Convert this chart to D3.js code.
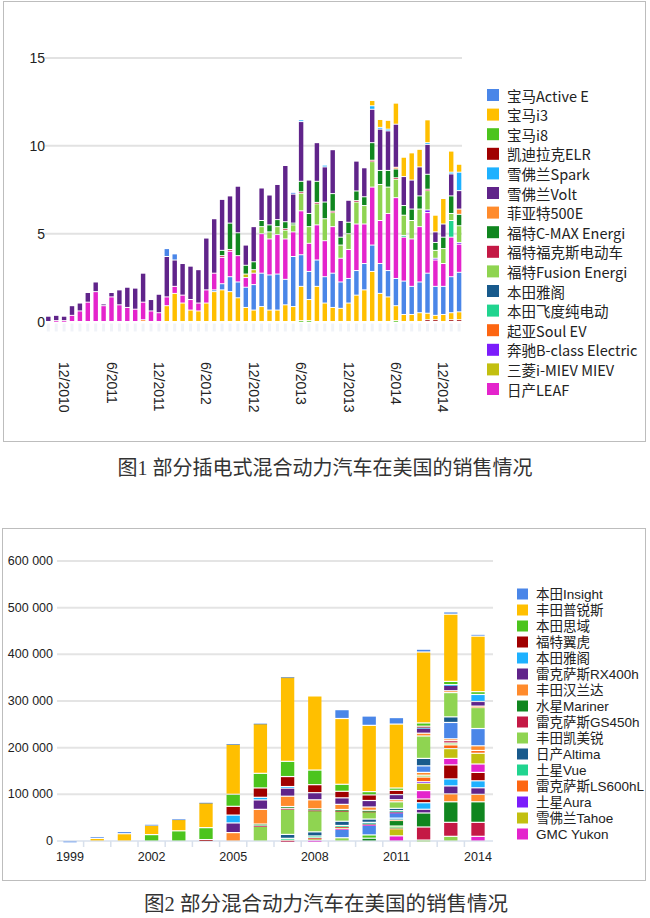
<!DOCTYPE html>
<html><head><meta charset="utf-8">
<script src="https://cdn.jsdelivr.net/npm/d3@7"></script>
<style>body{margin:0;background:#fff}svg{display:block}</style>
</head><body>
<svg id="c" width="650" height="918"></svg>
<script>
// ================= DATA: chart 1 (monthly plug-in sales, thousands) =================
const months1 = ["10/2010","11/2010","12/2010",
 "1/2011","2/2011","3/2011","4/2011","5/2011","6/2011","7/2011","8/2011","9/2011","10/2011","11/2011","12/2011",
 "1/2012","2/2012","3/2012","4/2012","5/2012","6/2012","7/2012","8/2012","9/2012","10/2012","11/2012","12/2012",
 "1/2013","2/2013","3/2013","4/2013","5/2013","6/2013","7/2013","8/2013","9/2013","10/2013","11/2013","12/2013",
 "1/2014","2/2014","3/2014","4/2014","5/2014","6/2014","7/2014","8/2014","9/2014","10/2014","11/2014","12/2014",
 "1/2015","2/2015"];
const tickMonths1 = ["12/2010","6/2011","12/2011","6/2012","12/2012","6/2013","12/2013","6/2014","12/2014"];
const yTicks1 = [0, 5, 10, 15];

const activeE  = [0,0,0,0,0,0,0,0,0,0, 0,0,0,0,0,0.45,0.35,0,0,0, 0,0,0,0,0,0,0,0,0,0, 0,0.1,0,0,0,0,0,0,0,0, 0,0,0,0,0,0,0,0,0,0, 0,0,0];
const bmwI3    = [0,0,0,0,0,0,0,0,0,0, 0,0,0,0,0,0,0,0,0,0, 0,0,0,0,0,0,0,0,0,0, 0,0,0,0,0,0,0,0,0,0, 0,0.3,0.45,0.5,1.2,1.1,1.55,1.0,1.3,0.95, 1.45,1.2,0.45];
const bmwI8    = [0,0,0,0,0,0,0,0,0,0, 0,0,0,0,0,0,0,0,0,0, 0,0,0,0,0,0,0,0,0,0, 0,0,0,0,0,0,0,0,0,0, 0,0,0,0,0,0,0,0,0,0, 0,0,0];
const elr      = [0,0,0,0,0,0,0,0,0,0, 0,0,0,0,0,0,0,0,0,0, 0,0,0,0,0,0,0,0,0,0, 0,0,0,0,0,0,0,0,0,0, 0,0,0,0,0,0,0,0,0,0, 0,0,0];
const spark    = [0,0,0,0,0,0,0,0,0,0, 0,0,0,0,0,0,0,0,0,0, 0,0,0,0,0,0,0,0,0,0, 0,0,0.1,0,0,0.1,0,0,0,0, 0,0.2,0.1,0.1,0,0,0,0,0.1,0, 0,0.1,1.05];
const volt     = [0.3,0.3,0.25,0.55,0.45,0.55,0.55,0.1,0.25,0.85, 1.15,1.2,1.65,0.65,1.05,2.3,1.5,1.8,1.9,1.9, 2.95,3.1,2.9,1.55,2.65,1.15,2.0,1.85,1.7,2.0, 3.2,1.65,3.4,1.9,2.2,2.0,2.5,0.95,1.25,1.7, 1.65,1.9,2.35,2.25,2.45,1.65,1.65,1.65,1.7,0.6, 0.75,1.25,1.05];
const fiat500e = [0,0,0,0,0,0,0,0,0,0, 0,0,0,0,0,0,0,0,0,0, 0,0,0,0,0,0,0,0,0,0, 0,0,0,0,0,0,0,0,0,0, 0,0,0,0,0.1,0,0,0,0,0, 0,0,0.3];
const cmax     = [0,0,0,0,0,0,0,0,0,0, 0,0,0,0,0,0,0,0,0,0, 0,0,0.3,1.5,1.3,0.5,0.45,0.35,0.4,0.4, 0.4,0.1,0.6,0.75,1.2,0.95,1.0,0.45,0.65,0.55, 0.5,1.0,0.8,0.95,0.5,0.55,0.65,0.75,0.85,0.45, 0.65,1.0,0.65];
const focusEV  = [0,0,0,0,0,0,0,0,0,0, 0,0,0,0,0,0,0,0,0,0, 0,0,0.1,0.1,0,0,0,0,0,0, 0.08,0,0.08,0,0.08,0,0.08,0,0,0.08, 0,0.08,0,0,0.08,0,0,0,0.08,0, 0,0,0];
const fusion   = [0,0,0,0,0,0,0,0,0,0, 0,0,0,0,0,0,0,0,0,0, 0,0,0,0,0,0,0,0.4,0.4,0.45, 0.5,0.4,1.0,0.95,1.2,1.25,0.8,0.75,0.9,1.25, 1.05,1.45,2.05,1.5,1.05,1.15,1.05,1.0,1.1,0.45, 0.85,0.4,0.95];
const accordP  = [0,0,0,0,0,0,0,0,0,0, 0,0,0,0,0,0,0,0,0,0, 0,0,0,0,0,0,0,0,0,0, 0,0,0,0,0,0,0,0,0,0, 0,0,0,0,0,0,0,0,0,0, 0,0,0];
const fitEV    = [0,0,0,0,0,0,0,0,0,0, 0,0,0,0,0,0,0,0,0,0, 0,0,0,0,0,0,0,0,0,0, 0,0,0,0,0,0,0,0,0,0, 0,0,0,0,0,0.1,0,0,0,0, 0,0.95,0];
const soulEV   = [0,0,0,0,0,0,0,0,0,0, 0,0,0,0,0,0,0,0,0,0, 0,0,0,0,0,0,0,0,0,0, 0,0,0,0,0,0,0,0,0,0, 0,0,0,0,0,0,0,0,0,0, 0,0,0];
const bClass   = [0,0,0,0,0,0,0,0,0,0, 0,0,0,0,0,0,0,0,0,0, 0,0,0,0,0,0,0,0,0,0, 0,0,0,0,0,0,0,0,0,0, 0,0,0,0,0,0,0,0,0.15,0.1, 0,0,0.1];
const iMiev    = [0,0,0,0,0,0,0,0,0,0, 0,0,0,0,0,0,0,0,0,0, 0,0,0,0,0,0.2,0.2,0,0,0, 0,0,0,0,0,0,0,0,0,0, 0,0,0,0,0,0,0,0,0,0, 0,0,0];
const leaf     = [0,0.05,0.05,0.35,0.6,1.1,1.7,0.9,1.4,0.95, 0.8,0.7,1.0,0.6,0.5,0.5,0.4,0.45,0.6,0.45, 0.75,0.95,1.5,1.45,1.5,0.55,0.65,2.25,2.05,2.25, 2.3,1.4,2.5,1.6,2.0,2.05,2.65,1.35,1.65,2.65, 2.25,3.3,2.45,3.25,4.6,2.5,2.7,3.15,3.45,1.5, 1.3,2.25,1.6];
// series beyond the visible legend page (colours continue the palette)
const extra16  = [0,0,0,0,0,0,0,0,0,0, 0,0,0,0,0,0,0,0,0,0, 0,0.1,0.35,0.85,0.9,1.15,1.45,1.9,2.0,2.05, 1.45,2.85,1.8,1.6,1.5,1.5,1.95,1.5,1.4,1.4, 1.5,1.5,1.7,1.5,1.55,1.9,1.6,1.75,2.28,1.65, 1.6,2.05,2.25];
const extra17  = [0,0,0,0,0,0,0,0,0,0, 0,0,0,0,0,0.9,1.6,1.05,0.65,0.6, 1.05,1.7,1.8,1.7,1.35,0.8,0.65,0.85,0.65,0.65, 0.95,0.85,1.95,1.2,2.0,1.05,0.8,0.75,1.05,1.5, 1.8,2.85,1.6,1.4,0.85,0.4,0.4,0.5,0.37,0.25, 0.4,0.4,0.45];
const extra18  = [0,0,0,0,0,0,0,0,0,0, 0,0,0,0,0,0,0,0,0,0, 0,0,0,0,0,0,0,0,0,0, 0,0,0.05,0.05,0,0,0,0,0,0, 0,0,0,0,0.05,0,0,0,0,0, 0,0,0];
const extra19  = [0,0,0,0,0,0,0,0,0,0, 0,0,0,0,0,0,0,0,0,0, 0,0,0,0,0,0,0,0,0,0, 0,0,0,0,0,0,0,0,0,0, 0,0,0,0,0,0,0,0,0.1,0.1, 0,0.1,0.1];
const extra22  = [0,0,0,0,0,0,0,0,0,0, 0,0,0.1,0,0,0,0,0,0,0, 0,0,0,0,0,0,0,0,0,0, 0,0,0,0,0,0,0,0,0,0, 0,0,0,0,0,0,0,0,0,0, 0,0,0];

const names1 = ["宝马Active E","宝马i3","宝马i8","凯迪拉克ELR","雪佛兰Spark","雪佛兰Volt","菲亚特500E",
 "福特C-MAX Energi","福特福克斯电动车","福特Fusion Energi","本田雅阁","本田飞度纯电动","起亚Soul EV",
 "奔驰B-class Electric","三菱i-MIEV MIEV","日产LEAF"];
const values1 = [activeE,bmwI3,bmwI8,elr,spark,volt,fiat500e,cmax,focusEV,fusion,accordP,fitEV,soulEV,bClass,iMiev,leaf];
const extras1 = [[16,extra16],[17,extra17],[18,extra18],[19,extra19],[22,extra22]];

// ================= DATA: chart 2 (annual hybrid sales) =================
const years2 = ["1999","2000","2001","2002","2003","2004","2005","2006","2007","2008","2009","2010","2011","2012","2013","2014"];
const xTickYears2 = ["1999","2002","2005","2008","2011","2014"];
const yTicks2 = [0,100000,200000,300000,400000,500000,600000];

const insight    = [17,3788,4726,2216,1200,583,666,722,3,0,19000,20000,14000,6000,5000,4000];
const prius      = [0,5600,15600,20100,24600,54000,107900,107000,181200,158900,141000,142000,137000,152000,144000,119000];
const civic      = [0,0,0,13700,21800,25600,25900,31300,32600,31300,15000,7000,5000,7000,7000,6000];
const escape     = [0,0,0,0,0,3000,18800,20100,21400,17200,14000,12000,9000,2000,0,0];
const accord     = [0,0,0,0,0,0,16800,5600,3400,0,0,0,0,2000,1000,15000];
const rx400h     = [0,0,0,0,0,0,20700,20200,17300,15200,14000,14000,11000,11000,12000,10000];
const highlander = [0,0,0,0,0,0,18000,31500,22100,19400,11000,7000,4500,6000,4000,3000];
const mariner    = [0,0,0,0,0,0,0,3200,3700,2300,1700,1500,0,0,0,0];
const gs450h     = [0,0,0,0,0,0,0,1800,1600,700,500,300,0,0,0,0];
const camry      = [0,0,0,0,0,0,0,31300,54500,46300,23000,17000,14000,48000,52000,45000];
const altima     = [0,0,0,0,0,0,0,0,8400,8800,9000,7000,5000,16000,12000,0];
const vue        = [0,0,0,0,0,0,0,0,4000,3000,2000,1500,1000,0,0,0];
const ls600hl    = [0,0,0,0,0,0,0,0,900,900,300,0,0,0,0,0];
const aura       = [0,0,0,0,0,0,0,0,800,1600,1000,1000,1000,0,0,0];
const tahoe      = [0,0,0,0,0,0,0,0,0,3700,3000,2000,1000,0,0,0];
const yukon      = [0,0,0,0,0,0,0,0,0,1600,2000,1500,1000,0,0,0];
// series beyond the visible legend page
const h16 = [0,0,0,0,0,0,0,0,0,0,18000,21000,12000,14000,35000,37000];
const h18 = [0,0,0,0,0,0,0,0,0,0,0,7000,0,0,0,0];
const h20 = [0,0,0,0,0,0,0,0,0,0,0,0,2000,0,0,0];
const h22 = [0,0,0,0,0,0,0,0,0,0,0,0,3000,6000,4000,10000];
const h23 = [0,0,0,0,0,0,0,0,0,0,0,6000,12000,0,0,0];
const h24 = [0,0,0,0,0,0,0,0,0,0,0,0,0,0,5000,0];
const h25 = [0,0,0,0,0,0,0,0,0,0,7000,0,2000,4000,4000,0];
const h27 = [0,0,0,0,0,0,0,0,0,0,0,0,2000,0,0,0];
const h28 = [0,0,0,0,0,0,0,0,0,0,0,0,2000,10000,8000,6000];
const h29 = [0,0,0,0,0,0,0,0,0,0,0,0,0,3000,0,0];
const h30 = [0,0,0,0,0,0,0,0,0,0,0,0,15000,16000,21000,23000];
const h31 = [0,0,0,0,0,0,0,0,0,0,0,0,11000,18000,14000,18000];
const h35 = [0,0,0,0,0,0,0,0,0,0,0,0,0,8000,30000,18000];
const h36 = [0,0,0,0,0,0,0,0,0,0,0,0,0,14000,15000,15000];
const h37 = [0,0,0,0,0,0,0,0,0,0,0,0,0,8000,17000,14000];
const h38 = [0,0,0,0,0,0,0,0,0,0,0,0,0,0,17000,16000];
const h39 = [0,0,0,0,0,0,0,0,0,0,0,0,0,30000,44000,44000];
const h40 = [0,0,0,0,0,0,0,0,0,0,0,0,0,28000,30000,30000];
const h41 = [0,0,0,0,0,0,0,0,0,0,0,0,0,2000,10000,0];
const h47 = [0,0,0,0,0,0,0,0,0,0,0,0,0,0,0,10000];

const names2 = ["本田Insight","丰田普锐斯","本田思域","福特翼虎","本田雅阁","雷克萨斯RX400h","丰田汉兰达",
 "水星Mariner","雷克萨斯GS450h","丰田凯美锐","日产Altima","土星Vue","雷克萨斯LS600hL","土星Aura","雪佛兰Tahoe","GMC Yukon"];
const values2 = [insight,prius,civic,escape,accord,rx400h,highlander,mariner,gs450h,camry,altima,vue,ls600hl,aura,tahoe,yukon];
const extras2 = [[16,h16],[18,h18],[20,h20],[22,h22],[23,h23],[24,h24],[25,h25],[27,h27],[28,h28],[29,h29],
 [30,h30],[31,h31],[35,h35],[36,h36],[37,h37],[38,h38],[39,h39],[40,h40],[41,h41],[47,h47]];

const palette = ["#4a86e8","#ffbf00","#4cc41d","#a00000","#1eb1ff","#60248a","#ff8b2c","#10861f",
 "#c41945","#8fd451","#185a8c","#20d48f","#fd6612","#7b1cfb","#c2bf10","#e424cc"];

// ================= DRAWING =================
const svg = d3.select("#c");
const NUM = "'Liberation Sans', Arial, sans-serif";
const CJK = "'Noto Sans CJK SC', 'Noto Sans', sans-serif";
const LAT_CJK = "'Liberation Sans', 'Noto Sans CJK SC', sans-serif";
const CAP = "'Liberation Serif', 'Noto Sans CJK SC', serif";

function buildSeries(names, values, extras) {
  const s = values.map((v, i) => ({slot: i, name: names[i], values: v}));
  extras.forEach(([slot, v]) => s.push({slot, name: null, values: v}));
  return s;
}

function drawStacked(g, cats, series, x, y, gap) {
  const keys = series.map(s => s.slot).sort((a, b) => b - a); // highest slot at bottom
  const rows = cats.map((c, j) => {
    const r = {cat: c};
    series.forEach(s => { r[s.slot] = s.values[j]; });
    return r;
  });
  const layers = d3.stack().keys(keys)(rows);
  layers.forEach(layer => {
    g.append("g").attr("fill", palette[layer.key % 16])
      .selectAll("rect")
      .data(layer.filter(d => d[1] - d[0] > 0))
      .join("rect")
      .attr("x", d => x(d.data.cat))
      .attr("width", x.bandwidth())
      .attr("y", d => y(d[1]) + gap / 2)
      .attr("height", d => Math.max(0.7, y(d[0]) - y(d[1]) - gap));
  });
}

function drawLegend(g, series, x0, y0, step, sq, fontSize, family) {
  const items = series.filter(s => s.name);
  const row = g.selectAll("g.lg").data(items).join("g").attr("class", "lg")
    .attr("transform", (d, i) => `translate(${x0},${y0 + i * step})`);
  row.append("rect").attr("x", 0).attr("y", -sq / 2).attr("width", sq).attr("height", sq)
    .attr("fill", d => palette[d.slot % 16]);
  row.append("text").attr("x", sq + 8).attr("y", 0).attr("dominant-baseline", "central")
    .attr("font-family", family).attr("font-size", fontSize).attr("fill", "#222")
    .text(d => d.name);
}

// ---------- Chart 1 ----------
svg.append("rect").attr("x", 3.5).attr("y", 1.5).attr("width", 642).attr("height", 440)
  .attr("fill", "none").attr("stroke", "#bdbdbd");

const series1 = buildSeries(names1, values1, extras1);
const x1 = d3.scaleBand().domain(months1).range([44.35, 463.05]).paddingInner(0.44).paddingOuter(0.22);
const y1 = d3.scaleLinear().domain([0, 15]).range([321.5, 58]);
const g1 = svg.append("g");

g1.append("g").selectAll("line").data(yTicks1.filter(t => t > 0)).join("line")
  .attr("x1", 45).attr("x2", 462).attr("y1", d => y1(d)).attr("y2", d => y1(d))
  .attr("stroke", "#e2e2e2").attr("stroke-width", 2);
g1.append("g").selectAll("line").data(months1).join("line")
  .attr("x1", d => x1(d) + x1.bandwidth() / 2).attr("x2", d => x1(d) + x1.bandwidth() / 2)
  .attr("y1", y1(0) + 2).attr("y2", y1(0) + 10)
  .attr("stroke", "#f0f3f8").attr("stroke-width", 3);

g1.append("g").selectAll("text").data(yTicks1).join("text")
  .attr("x", 45).attr("y", d => y1(d)).attr("text-anchor", "end").attr("dominant-baseline", "central")
  .attr("font-family", NUM).attr("font-size", 14).attr("fill", "#222").text(d => d);

drawStacked(g1.append("g"), months1, series1, x1, y1, 1);

g1.append("g").selectAll("text").data(tickMonths1).join("text")
  .attr("transform", d => `translate(${x1(d) + x1.bandwidth() / 2},362) rotate(90)`)
  .attr("text-anchor", "start").attr("dominant-baseline", "central")
  .attr("font-family", NUM).attr("font-size", 14).attr("fill", "#222").text(d => d);

drawLegend(svg.append("g"), series1, 487, 95, 19.6, 12, 14.5, CJK);

svg.append("text").attr("x", 325).attr("y", 468).attr("text-anchor", "middle").attr("dominant-baseline", "central")
  .attr("font-family", CAP).attr("font-size", 20).attr("fill", "#333")
  .text("图1 部分插电式混合动力汽车在美国的销售情况");

// ---------- Chart 2 ----------
svg.append("rect").attr("x", 2.5).attr("y", 528.5).attr("width", 643).attr("height", 352)
  .attr("fill", "none").attr("stroke", "#bdbdbd");

const series2 = buildSeries(names2, values2, extras2);
const x2 = d3.scaleBand().domain(years2).range([56.4, 491.6]).paddingInner(0.51).paddingOuter(0.255);
const y2 = d3.scaleLinear().domain([0, 600000]).range([841, 561]);
const g2 = svg.append("g");

g2.append("g").selectAll("line").data(yTicks2.filter(t => t > 0)).join("line")
  .attr("x1", 57).attr("x2", 493).attr("y1", d => y2(d)).attr("y2", d => y2(d))
  .attr("stroke", "#e4e4e4").attr("stroke-width", 2);
g2.append("line").attr("x1", 57).attr("x2", 493).attr("y1", y2(0)).attr("y2", y2(0))
  .attr("stroke", "#d8e0ec").attr("stroke-width", 1.5);
g2.append("g").selectAll("line").data(years2.slice(1)).join("line")
  .attr("x1", d => x2(d) - x2.step() * x2.paddingInner() / 2).attr("x2", d => x2(d) - x2.step() * x2.paddingInner() / 2)
  .attr("y1", y2(0)).attr("y2", y2(0) + 6)
  .attr("stroke", "#d8e0ec").attr("stroke-width", 1.5);

const fmt2 = v => d3.format(",")(v).replace(/,/g, " ");
g2.append("g").selectAll("text").data(yTicks2).join("text")
  .attr("x", 53).attr("y", d => y2(d)).attr("text-anchor", "end").attr("dominant-baseline", "central")
  .attr("font-family", NUM).attr("font-size", 12.5).attr("fill", "#222").text(fmt2);

drawStacked(g2.append("g"), years2, series2, x2, y2, 1.2);

g2.append("g").selectAll("text").data(xTickYears2).join("text")
  .attr("x", d => x2(d) + x2.bandwidth() / 2).attr("y", 857).attr("text-anchor", "middle")
  .attr("dominant-baseline", "central")
  .attr("font-family", NUM).attr("font-size", 12.5).attr("fill", "#222").text(d => d);

drawLegend(svg.append("g"), series2, 517, 594, 16, 11, 13.5, LAT_CJK);

svg.append("text").attr("x", 326).attr("y", 904).attr("text-anchor", "middle").attr("dominant-baseline", "central")
  .attr("font-family", CAP).attr("font-size", 20.5).attr("fill", "#333")
  .text("图2 部分混合动力汽车在美国的销售情况");
</script>
</body></html>
